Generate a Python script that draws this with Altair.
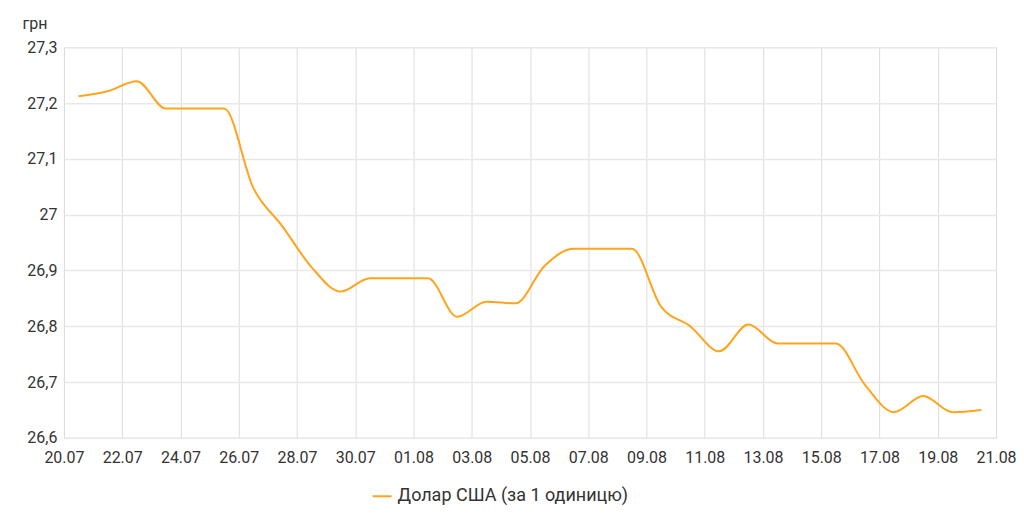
import altair as alt
import pandas as pd

dates = [f"2021-07-{d:02d}T12:00:00" for d in range(20, 32)] + \
        [f"2021-08-{d:02d}T12:00:00" for d in range(1, 21)]
values = [27.212, 27.221, 27.239, 27.190, 27.190, 27.190, 27.048, 26.979,
          26.906, 26.862, 26.886, 26.886, 26.886, 26.817, 26.844, 26.841,
          26.908, 26.939, 26.939, 26.939, 26.835, 26.800, 26.755, 26.803,
          26.769, 26.769, 26.769, 26.695, 26.646, 26.675, 26.646, 26.650]
series_name = "Долар США (за 1 одиницю)"
tick_days = [(7, d) for d in range(20, 32, 2)] + [(8, d) for d in range(1, 22, 2)]
y_ticks = [26.6, 26.7, 26.8, 26.9, 27.0, 27.1, 27.2, 27.3]

df = pd.DataFrame({"date": dates, "value": values, "series": [series_name] * len(dates)})

tick_values = [alt.DateTime(year=2021, month=m, date=d) for m, d in tick_days]

chart = alt.Chart(df).mark_line(
    interpolate="monotone", strokeWidth=2
).encode(
    x=alt.X(
        "date:T",
        scale=alt.Scale(domain=[alt.DateTime(year=2021, month=7, date=20),
                                alt.DateTime(year=2021, month=8, date=21)]),
        axis=alt.Axis(values=tick_values, format="%d.%m", title=None,
                      tickSize=0, labelPadding=12, domain=False,
                      gridColor="#dcdcdc", gridWidth=1,
                      labelFontSize=16, labelColor="#333333", labelFont="Roboto",
                      labelOverlap=False, labelFlush=False),
    ),
    y=alt.Y(
        "value:Q",
        scale=alt.Scale(domain=[26.6, 27.3], nice=False, zero=False),
        axis=alt.Axis(values=y_ticks, title="грн", titleAngle=0, titleAlign="left",
                      titleBaseline="alphabetic", titleX=-42, titleY=-19,
                      titleFontSize=16, titleFontWeight="normal", titleColor="#333333",
                      titleFont="Roboto",
                      labelExpr="replace(format(datum.value, '.3~g'), '.', ',')",
                      tickSize=0, labelPadding=7, domain=False,
                      gridColor="#e8e8e8", gridWidth=1.5,
                      labelFontSize=16, labelColor="#333333", labelFont="Roboto"),
    ),
    color=alt.Color(
        "series:N",
        scale=alt.Scale(range=["#ffa41b"]),
        legend=alt.Legend(title=None, orient="none", legendX=308, legendY=439,
                          symbolType="stroke", symbolStrokeWidth=2, symbolSize=360,
                          labelLimit=500, labelOffset=5,
                          labelFontSize=18, labelColor="#333333", labelFont="Roboto"),
    ),
).properties(
    width=933,
    height=391,
    autosize=alt.AutoSizeParams(type="none"),
    padding={"left": 56, "top": 39, "right": 20, "bottom": 80},
).configure_view(
    stroke="#dcdcdc", strokeWidth=1
)

chart.save("out.html", embed_options={"renderer": "svg", "actions": False})
